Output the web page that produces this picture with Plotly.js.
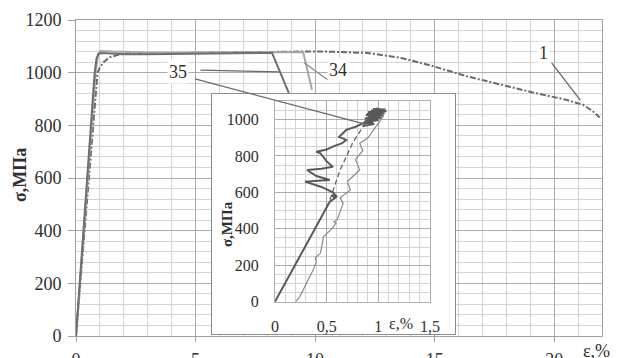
<!DOCTYPE html>
<html><head><meta charset="utf-8">
<script src="https://cdn.plot.ly/plotly-3.0.1.min.js"></script>
<style>html,body{margin:0;padding:0;background:#fff}</style>
</head><body><div id="chart" style="width:618px;height:358px"></div>
<script>
// ---- main chart: strain (%) vs stress (MPa) ----
const curve1X = [0, 0.55, 0.9, 1.0, 1.15, 1.4, 1.85, 2.5, 4, 6, 8, 9.4, 10.5, 12.2, 13.6, 14.96, 16.36, 17.75, 19.1, 20.5, 21.2, 21.6, 21.9];
const curve1Y = [0, 600, 1000, 1020, 1040, 1058, 1070, 1073, 1075, 1077, 1079, 1080, 1080, 1075, 1056, 1024, 986, 954, 925, 897, 878, 855, 830];
const curve35X = [0, 0.47, 0.78, 0.86, 0.95, 1.1, 1.5, 2, 3, 5, 7, 8, 8.2, 8.9];
const curve35Y = [0, 600, 1000, 1055, 1072, 1075, 1073, 1070, 1070, 1071, 1073, 1075, 1075, 923];
const curve34X = [0, 0.49, 0.82, 0.92, 1.02, 1.5, 3, 5, 7, 9, 9.5, 9.87];
const curve34Y = [0, 600, 1000, 1070, 1082, 1080, 1077, 1076, 1077, 1078, 1078, 935];

// ---- inset: early part of the curves ----
const insetAX = [0, 0.53, 0.58, 0.55, 0.6, 0.56, 0.45, 0.29, 0.45, 0.53, 0.4, 0.31, 0.45, 0.56, 0.5, 0.44, 0.40, 0.5, 0.56, 0.65, 0.69, 0.62, 0.69, 0.78, 0.85,
  0.95, 0.87, 1.0, 0.88, 1.03, 0.9, 1.05, 0.89, 1.06, 0.92, 1.08, 0.93, 1.07, 0.95, 1.05, 0.98, 1.02, 0.9, 1.04, 0.88, 1.02, 0.87, 0.99, 0.86, 0.96, 0.85];
const insetAY = [0, 549, 569, 585, 575, 600, 630, 659, 665, 668, 690, 723, 730, 741, 770, 815, 823, 835, 851, 870, 888, 905, 943, 960, 979,
  985, 992, 998, 1005, 1010, 1018, 1024, 1030, 1035, 1042, 1046, 1050, 1055, 1058, 1052, 1060, 1048, 1040, 1033, 1025, 1015, 1005, 996, 985, 975, 965];
const insetBX = [0.2, 0.24, 0.32, 0.37, 0.40, 0.39, 0.44, 0.47, 0.55, 0.59, 0.57, 0.60, 0.66, 0.63, 0.73, 0.70, 0.82, 0.78, 0.85, 0.82, 0.90, 0.95, 1.0, 1.05];
const insetBY = [0, 27, 119, 174, 220, 240, 267, 357, 400, 431, 440, 448, 540, 570, 613, 660, 723, 780, 830, 870, 900, 940, 980, 1020];
const insetCX = [0.5, 0.53, 0.63, 0.75, 0.85, 0.9];
const insetCY = [520, 557, 723, 870, 960, 1000];

const curveLabels = ['35', '34', '1'];
const xTitle = 'ε,%';
const yTitle = 'σ,МПа';

const SERIF = 'Liberation Serif';
const TXT = '#2e2e2e';
const traces = [
  {x: curve1X, y: curve1Y, xaxis: 'x', yaxis: 'y', mode: 'lines', line: {color: '#6a6a6a', width: 2, dash: '6px,2px,2px,2px'}, hoverinfo: 'skip'},
  {x: curve34X, y: curve34Y, xaxis: 'x', yaxis: 'y', mode: 'lines', line: {color: '#a6a6a6', width: 2}, hoverinfo: 'skip'},
  {x: curve35X, y: curve35Y, xaxis: 'x', yaxis: 'y', mode: 'lines', line: {color: '#6e6e6e', width: 2}, hoverinfo: 'skip'},
  {x: [], y: [], xaxis: 'x2', yaxis: 'y2', mode: 'lines', hoverinfo: 'skip'},
  {x: insetBX, y: insetBY, xaxis: 'x3', yaxis: 'y3', mode: 'lines', line: {color: '#8a8a8a', width: 1.2}, hoverinfo: 'skip'},
  {x: insetCX, y: insetCY, xaxis: 'x3', yaxis: 'y3', mode: 'lines', line: {color: '#666', width: 1.3, dash: '5px,3px'}, hoverinfo: 'skip'},
  {x: insetAX, y: insetAY, xaxis: 'x3', yaxis: 'y3', mode: 'lines', line: {color: '#595959', width: 2}, hoverinfo: 'skip'}
];

const gridMajor = '#ababab', gridMinor = '#d3d3d3';
const tickFont = {family: SERIF, size: 18, color: TXT};
const insetFont = {family: SERIF, size: 16, color: TXT};

function label(text, xref, yref, x, y, font, extra) {
  return Object.assign({text: text, xref: xref, yref: yref, x: x, y: y, xanchor: 'center', yanchor: 'middle', showarrow: false, font: font}, extra || {});
}

const layout = {
  width: 618, height: 358,
  margin: {l: 76, r: 16, t: 20, b: 22},
  paper_bgcolor: '#fff', plot_bgcolor: '#fff',
  showlegend: false,
  separators: ', ',
  font: {family: SERIF, color: TXT},
  xaxis: {domain: [0, 1], anchor: 'y', range: [0, 22], dtick: 5, tick0: 0,
    showgrid: true, gridcolor: gridMajor, gridwidth: 1,
    minor: {dtick: 1, showgrid: true, gridcolor: gridMinor, gridwidth: 1},
    zeroline: false, showline: true, mirror: true, linecolor: '#a0a0a0', linewidth: 1,
    ticks: 'outside', ticklen: 5, tickcolor: '#a0a0a0', tickfont: tickFont, ticklabelstandoff: 2},
  yaxis: {domain: [0, 1], anchor: 'x', range: [0, 1200], dtick: 200, tick0: 0,
    showgrid: true, gridcolor: gridMajor, gridwidth: 1,
    minor: {dtick: 40, showgrid: true, gridcolor: gridMinor, gridwidth: 1},
    zeroline: false, showline: true, mirror: true, linecolor: '#a0a0a0', linewidth: 1,
    ticks: 'outside', ticklen: 7, tickcolor: '#a0a0a0', tickfont: tickFont, ticklabelstandoff: 3},
  xaxis2: {domain: [0.2586, 0.7205], anchor: 'y2', range: [0, 1], showgrid: false, zeroline: false,
    showticklabels: false, ticks: '', showline: true, mirror: true, linecolor: '#8c8c8c', linewidth: 1.2},
  yaxis2: {domain: [0.006, 0.766], anchor: 'x2', range: [0, 1], showgrid: false, zeroline: false,
    showticklabels: false, ticks: '', showline: true, mirror: true, linecolor: '#8c8c8c', linewidth: 1.2},
  xaxis3: {domain: [0.3783, 0.6730], anchor: 'y3', range: [0, 1.5], dtick: 0.5, tick0: 0,
    showgrid: true, gridcolor: gridMajor, gridwidth: 1,
    minor: {dtick: 0.1, showgrid: true, gridcolor: gridMinor, gridwidth: 1},
    zeroline: false, showline: true, mirror: true, linecolor: '#b0b0b0', linewidth: 1,
    ticks: '', tickfont: insetFont, ticklabelstandoff: 10},
  yaxis3: {domain: [0.1085, 0.7427], anchor: 'x3', range: [0, 1100], dtick: 200, tick0: 0,
    showgrid: true, gridcolor: gridMajor, gridwidth: 1,
    minor: {dtick: 50, showgrid: true, gridcolor: gridMinor, gridwidth: 1},
    zeroline: false, showline: true, mirror: true, linecolor: '#b0b0b0', linewidth: 1,
    ticks: '', tickfont: insetFont, ticklabelstandoff: 12},
  shapes: [
    {type: 'line', xref: 'x', yref: 'y', x0: 5.2, y0: 1010, x1: 8.51, y1: 1003, line: {color: '#6a6a6a', width: 1.3}, layer: 'above'},
    {type: 'line', xref: 'x', yref: 'y', x0: 4.98, y0: 976, x1: 12.09, y1: 805, line: {color: '#6a6a6a', width: 1.3}, layer: 'above'},
    {type: 'line', xref: 'x', yref: 'y', x0: 10.54, y0: 972, x1: 9.55, y1: 1037, line: {color: '#8a8a8a', width: 1.3}, layer: 'above'},
    {type: 'line', xref: 'x', yref: 'y', x0: 19.9, y0: 1036, x1: 21.09, y1: 896, line: {color: '#6a6a6a', width: 1.3}, layer: 'above'}
  ],
  annotations: [
    label(curveLabels[0], 'x', 'y', 4.27, 1003, tickFont, {bgcolor: '#fff', borderpad: 1}),
    label(curveLabels[1], 'x', 'y', 10.96, 1010, tickFont, {bgcolor: '#fff', borderpad: 1}),
    label(curveLabels[2], 'x', 'y', 19.54, 1075, tickFont, {bgcolor: '#fff', borderpad: 1}),
    label('<b>' + yTitle + '</b>', 'paper', 'paper', -0.1065, 0.5095, {family: SERIF, size: 18, color: TXT}, {textangle: -90}),
    label(xTitle, 'paper', 'paper', 0.99, -0.046, {family: SERIF, size: 18, color: TXT}),
    label('<b>' + yTitle + '</b>', 'paper', 'paper', 0.287, 0.354, {family: SERIF, size: 15, color: TXT}, {textangle: -90}),
    label(xTitle, 'paper', 'paper', 0.618, 0.038, {family: SERIF, size: 16, color: TXT})
  ]
};

Plotly.newPlot('chart', traces, layout, {staticPlot: true, displayModeBar: false});
</script>
</body></html>
